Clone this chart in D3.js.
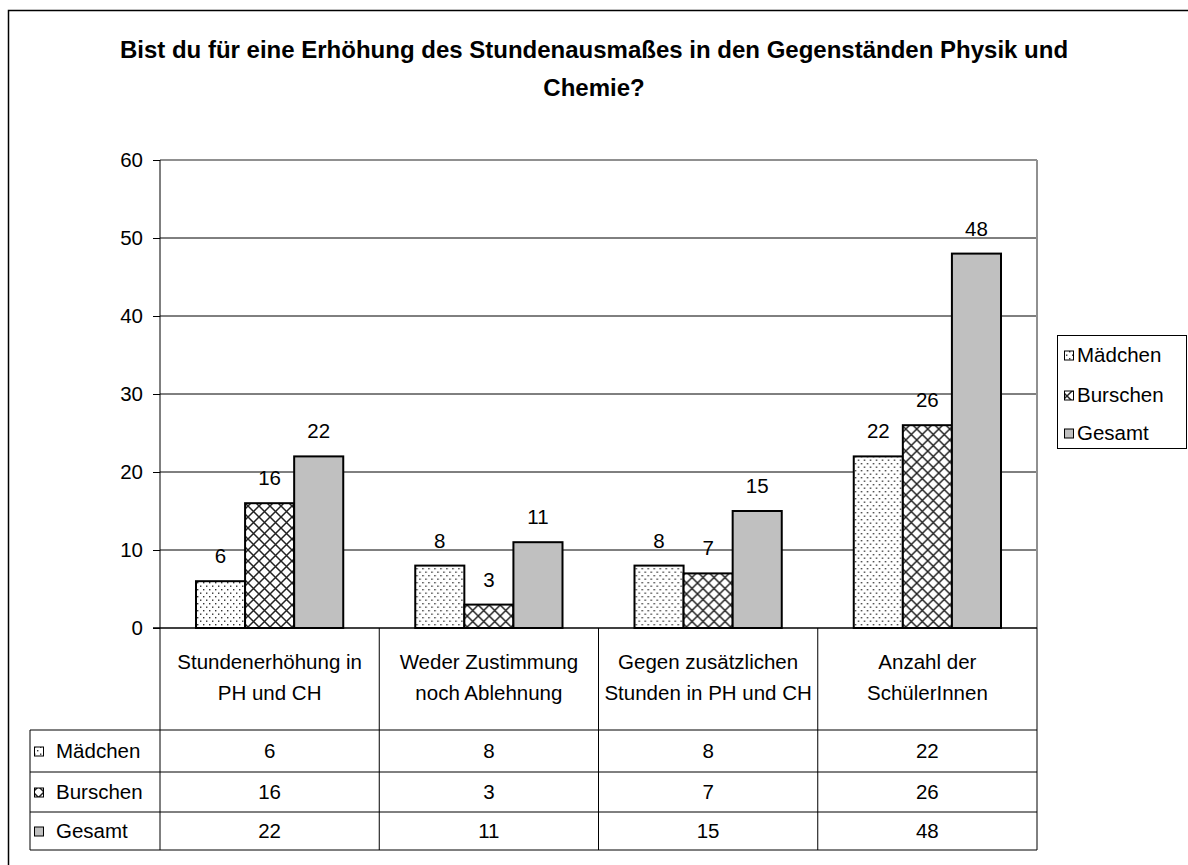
<!DOCTYPE html>
<html>
<head>
<meta charset="utf-8">
<script src="https://cdn.jsdelivr.net/npm/d3@7"></script>
<style>
  body { margin: 0; background: #fff; }
  svg text { font-family: Arial, "Liberation Sans", sans-serif; fill: #000; }
</style>
</head>
<body>
<div id="chart"></div>
<script>
// Daten
const categories = [
    ["Stundenerhöhung in", "PH und CH"],
    ["Weder Zustimmung", "noch Ablehnung"],
    ["Gegen zusätzlichen", "Stunden in PH und CH"],
    ["Anzahl der", "SchülerInnen"]
];
const seriesNames = ["Mädchen", "Burschen", "Gesamt"];
const maedchen = [6, 8, 8, 22];
const burschen = [16, 3, 7, 26];
const gesamt = [22, 11, 15, 48];
const yTicks = [0, 10, 20, 30, 40, 50, 60];
const titleLines = ["Bist du für eine Erhöhung des Stundenausmaßes in den Gegenständen Physik und", "Chemie?"];

const values = [maedchen, burschen, gesamt];
const fills = ["url(#dots)", "url(#cross)", "#c0c0c0"];

const width = 1188, height = 865;
const plot = { left: 160, right: 1037, top: 160, bottom: 628 };
const fs = "20.5px";

const svg = d3.select("#chart").append("svg")
    .attr("width", width)
    .attr("height", height);

// Muster
const defs = svg.append("defs");
const dots = defs.append("pattern").attr("id", "dots")
    .attr("patternUnits", "userSpaceOnUse").attr("width", 6).attr("height", 7);
dots.append("rect").attr("width", 6).attr("height", 7).attr("fill", "#fff");
[[1, 1], [4, 4.5]].forEach(p => {
    dots.append("rect").attr("x", p[0]).attr("y", p[1]).attr("width", 1.4).attr("height", 1.4).attr("fill", "#333");
});
const cross = defs.append("pattern").attr("id", "cross")
    .attr("patternUnits", "userSpaceOnUse").attr("width", 11).attr("height", 11);
cross.append("rect").attr("width", 11).attr("height", 11).attr("fill", "#fff");
cross.append("path").attr("d", "M0,0L11,11M11,0L0,11M-1,10L1,12M10,-1L12,1")
    .attr("stroke", "#222").attr("stroke-width", 1.5).attr("fill", "none");

// Rahmen
svg.append("rect").attr("x", 8.5).attr("y", 10.5).attr("width", 1200).attr("height", 900)
    .attr("fill", "none").attr("stroke", "#000").attr("stroke-width", 1.5);

// Titel
svg.append("g").selectAll("text").data(titleLines).enter().append("text")
    .attr("x", 594).attr("y", (d, i) => 58 + i * 38)
    .attr("text-anchor", "middle")
    .style("font-size", "24px").style("font-weight", "bold")
    .text(d => d);

// Skalen
const x0 = d3.scaleBand().domain(d3.range(categories.length)).range([plot.left, plot.right]);
const x1 = d3.scaleBand().domain(d3.range(seriesNames.length)).range([36, x0.bandwidth() - 36]);
const y = d3.scaleLinear().domain([0, 60]).range([plot.bottom, plot.top]);

// Gitterlinien
svg.append("g").selectAll("line").data(yTicks.filter(t => t > 0)).enter().append("line")
    .attr("x1", plot.left).attr("x2", plot.right)
    .attr("y1", d => y(d)).attr("y2", d => y(d))
    .attr("stroke", d => d === 60 ? "#909090" : "#000").attr("stroke-width", d => d === 60 ? 2 : 1);
svg.append("line").attr("x1", plot.right).attr("x2", plot.right).attr("y1", plot.top).attr("y2", plot.bottom)
    .attr("stroke", "#909090").attr("stroke-width", 2);

// Y-Achse
const yAxis = svg.append("g").attr("transform", `translate(${plot.left},0)`)
    .call(d3.axisLeft(y).tickValues(yTicks).tickSize(7).tickPadding(10));
yAxis.select(".domain").remove();
yAxis.selectAll("line").attr("stroke", "#000");
yAxis.selectAll("text").style("font-size", fs).attr("font-family", null);
svg.append("line").attr("x1", plot.left).attr("x2", plot.left).attr("y1", plot.top).attr("y2", 850)
    .attr("stroke", "#000").attr("stroke-width", 1);

// Balken
const groups = svg.append("g").selectAll("g").data(categories).enter().append("g")
    .attr("transform", (d, i) => `translate(${x0(i)},0)`);
groups.each(function (c, ci) {
    const g = d3.select(this);
    seriesNames.forEach((s, si) => {
        const v = values[si][ci];
        g.append("rect")
            .attr("x", x1(si)).attr("width", x1.bandwidth())
            .attr("y", y(v)).attr("height", y(0) - y(v))
            .attr("fill", fills[si]).attr("stroke", "#000").attr("stroke-width", 2);
        g.append("text")
            .attr("x", x1(si) + x1.bandwidth() / 2).attr("y", y(v) - 18)
            .attr("text-anchor", "middle").style("font-size", fs)
            .text(v);
    });
});

// Null-Linie
svg.append("line").attr("x1", plot.left - 7).attr("x2", plot.right).attr("y1", plot.bottom).attr("y2", plot.bottom)
    .attr("stroke", "#000").attr("stroke-width", 1.5);

// Kategorienbeschriftung und Tabelle
const tableLeft = 30, tableRight = plot.right, rowTops = [730, 772, 812, 850];
d3.range(1, categories.length).forEach(i => {
    svg.append("line").attr("x1", x0(i)).attr("x2", x0(i)).attr("y1", plot.bottom).attr("y2", rowTops[3])
        .attr("stroke", "#000");
});
svg.append("line").attr("x1", tableRight).attr("x2", tableRight).attr("y1", plot.bottom).attr("y2", rowTops[3])
    .attr("stroke", "#000");
rowTops.forEach(t => {
    svg.append("line").attr("x1", tableLeft).attr("x2", tableRight).attr("y1", t).attr("y2", t).attr("stroke", "#000");
});
svg.append("line").attr("x1", tableLeft).attr("x2", tableLeft).attr("y1", rowTops[0]).attr("y2", rowTops[3]).attr("stroke", "#000");

categories.forEach((c, i) => {
    c.forEach((line, li) => {
        svg.append("text").attr("x", x0(i) + x0.bandwidth() / 2).attr("y", 669 + li * 31)
            .attr("text-anchor", "middle").style("font-size", fs).text(line);
    });
});

seriesNames.forEach((s, si) => {
    const cy = (rowTops[si] + rowTops[si + 1]) / 2;
    svg.append("rect").attr("x", 34.5).attr("y", cy - 4).attr("width", 9).attr("height", 9)
        .attr("fill", fills[si]).attr("stroke", "#000");
    svg.append("text").attr("x", 56).attr("y", cy + 7).style("font-size", fs).text(s);
    values[si].forEach((v, ci) => {
        svg.append("text").attr("x", x0(ci) + x0.bandwidth() / 2).attr("y", cy + 7)
            .attr("text-anchor", "middle").style("font-size", fs).text(v);
    });
});

// Legende
const legend = svg.append("g");
legend.append("rect").attr("x", 1057.5).attr("y", 335.5).attr("width", 129).attr("height", 113)
    .attr("fill", "#fff").attr("stroke", "#000");
[355, 395, 433].forEach((cy, si) => {
    legend.append("rect").attr("x", 1064.5).attr("y", cy - 4).attr("width", 9).attr("height", 9)
        .attr("fill", fills[si]).attr("stroke", "#000");
    legend.append("text").attr("x", 1077).attr("y", cy + 7).style("font-size", fs).text(seriesNames[si]);
});
</script>
</body>
</html>
